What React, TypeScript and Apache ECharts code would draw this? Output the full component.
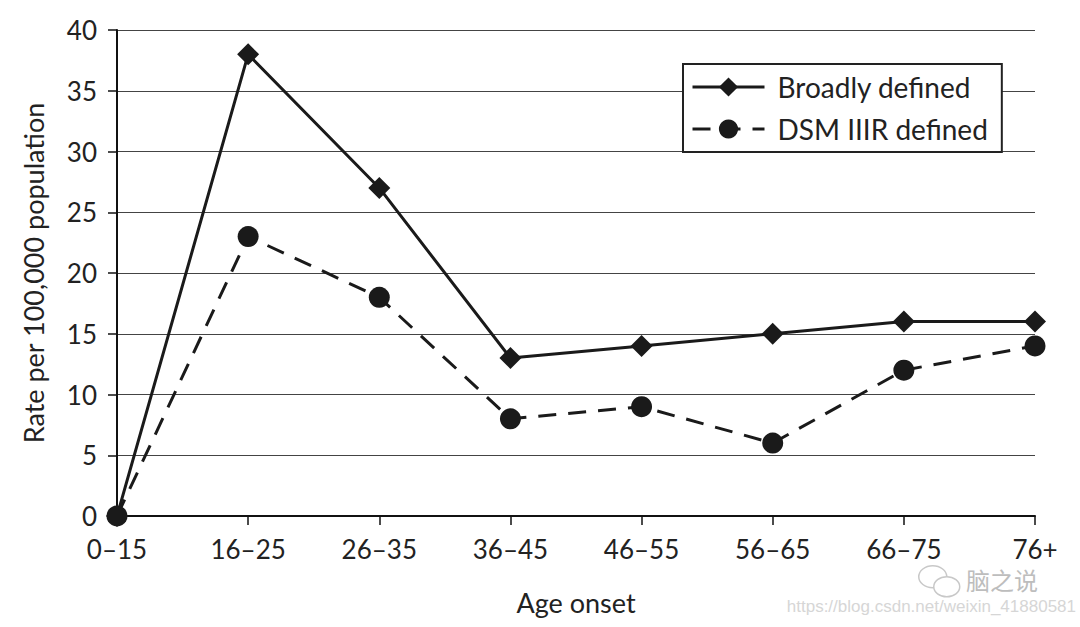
import React, { useEffect, useRef } from "react";
import * as echarts from "echarts";

const categories = ["0–15", "16–25", "26–35", "36–45", "46–55", "56–65", "66–75", "76+"];
const broadlyDefined = [0, 38, 27, 13, 14, 15, 16, 16];
const dsmDefined = [0, 23, 18, 8, 9, 6, 12, 14];
const seriesNames = ["Broadly defined", "DSM IIIR defined"];
const yAxisName = "Rate per 100,000 population";
const xAxisName = "Age onset";
const watermarkName = "脑之说";
const watermarkUrl = "https://blog.csdn.net/weixin_41880581";

const FONT = "Lato, 'Open Sans', sans-serif";

export default function App() {
  const ref = useRef<HTMLDivElement>(null);
  useEffect(() => {
    if (!ref.current) return;
    const chart = echarts.init(ref.current, null, { renderer: "svg" });
    chart.setOption({
      animation: false,
      backgroundColor: "#ffffff",
      textStyle: { fontFamily: FONT },
      grid: {
        left: 117,
        right: 45,
        top: 30,
        bottom: 111,
        containLabel: false,
        outerBoundsMode: "none",
      },
      legend: {
        left: 683,
        top: 64,
        orient: "vertical",
        padding: [9, 14, 9, 8],
        itemGap: 14,
        itemWidth: 72,
        itemHeight: 24,
        backgroundColor: "#ffffff",
        borderColor: "#222",
        borderWidth: 2,
        borderRadius: 0,
        lineStyle: { width: 3 },
        textStyle: { fontSize: 28, color: "#222", fontFamily: FONT, padding: [0, 0, 0, 8] },
        data: seriesNames,
      },
      xAxis: {
        type: "category",
        data: categories,
        boundaryGap: false,
        name: xAxisName,
        nameLocation: "middle",
        nameGap: 73,
        nameTextStyle: { fontSize: 27, color: "#222", fontFamily: FONT },
        axisLine: { lineStyle: { color: "#111", width: 2 } },
        axisTick: { show: true, length: 9, lineStyle: { color: "#111", width: 1.5 } },
        axisLabel: { fontSize: 26, color: "#222", margin: 20, fontFamily: FONT },
        splitLine: { show: false },
      },
      yAxis: {
        type: "value",
        min: 0,
        max: 40,
        interval: 5,
        name: yAxisName,
        nameLocation: "middle",
        nameGap: 70,
        nameRotate: 90,
        nameTextStyle: { fontSize: 27, color: "#222", fontFamily: FONT },
        axisLine: { show: true, lineStyle: { color: "#111", width: 2 } },
        axisTick: { show: true, length: 9, lineStyle: { color: "#111", width: 1.5 } },
        axisLabel: { fontSize: 26, color: "#222", margin: 20, fontFamily: FONT },
        splitLine: { show: true, lineStyle: { color: "#444", width: 1.2 } },
      },
      series: [
        {
          name: seriesNames[0],
          type: "line",
          data: broadlyDefined,
          symbol: "diamond",
          symbolSize: 22,
          lineStyle: { color: "#1a1a1a", width: 3, type: "solid" },
          itemStyle: { color: "#1a1a1a" },
          z: 3,
        },
        {
          name: seriesNames[1],
          type: "line",
          data: dsmDefined,
          symbol: "circle",
          symbolSize: 21,
          lineStyle: { color: "#1a1a1a", width: 3, type: [18, 12] },
          itemStyle: { color: "#1a1a1a" },
          z: 2,
        },
      ],
      graphic: [
        {
          type: "group",
          left: 918,
          top: 565,
          children: [
            { type: "ellipse", shape: { cx: 18, cy: 12, rx: 14, ry: 11 }, style: { fill: "#fff", stroke: "#c8c8c8", lineWidth: 1.5 } },
            { type: "ellipse", shape: { cx: 32, cy: 22, rx: 13, ry: 10 }, style: { fill: "#fff", stroke: "#c8c8c8", lineWidth: 1.5 } },
          ],
        },
        {
          type: "text",
          left: 966,
          top: 567,
          style: { text: watermarkName, fontSize: 24, fill: "#bdbdbd", fontFamily: "'Noto Sans CJK SC', sans-serif" },
        },
        {
          type: "text",
          right: 4,
          top: 598,
          style: { text: watermarkUrl, fontSize: 17, fill: "#d6d6d6", fontFamily: "'Liberation Sans', Arial, sans-serif" },
        },
      ],
    });
    return () => chart.dispose();
  }, []);
  return (
    <div
      ref={ref}
      style={{ position: "fixed", left: 0, top: 0, width: 1080, height: 627 }}
    />
  );
}
